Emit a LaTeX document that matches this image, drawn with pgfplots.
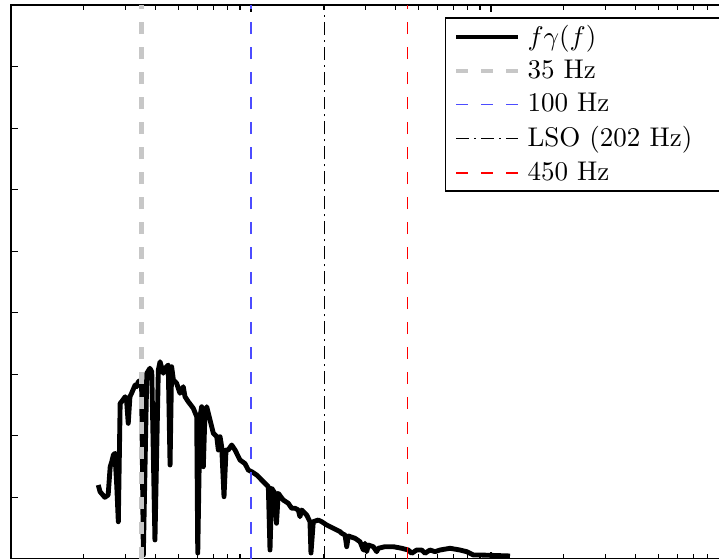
\documentclass[border=0pt]{standalone}
\usepackage{pgfplots}
\pgfplotsset{compat=1.18}
\begin{document}
\begin{tikzpicture}
\begin{axis}[
  scale only axis, width=266.4pt, height=204.98pt,
  xmode=log, xmin=10, xmax=10000, ymin=0, ymax=9,
  xtick={10,100,1000,10000},
  minor xtick={20,30,40,50,60,70,80,90,200,300,400,500,600,700,800,900,2000,3000,4000,5000,6000,7000,8000,9000},
  ytick={0,1,2,3,4,5,6,7,8,9},
  xticklabels={}, yticklabels={},
  tick align=inside, major tick length=2.6pt, minor tick length=1.7pt,
  axis line style={line width=0.5pt},
  every tick/.style={black, line width=0.4pt},
  legend cell align=left,
  legend style={at={(1,1)}, anchor=north east, xshift=-2.6pt, yshift=-4.6pt,
    draw=black, line width=0.5pt, font=\normalsize, inner xsep=2.94pt, inner ysep=0.5pt,
    nodes={inner xsep=1.5pt}},
  legend image code/.code={\draw[#1] (0pt,0pt) -- (22.94pt,0pt); \path (24pt,0pt);},
]
\coordinate (SW) at (rel axis cs:0,0);
\addplot[black, line width=1.8pt, line join=round] coordinates {
(23.1,1.202) (23.5,1.093) (24.6,1.002) (25.4,1.040) (25.9,1.499) (26.3,1.581)
(26.7,1.689) (27.1,1.717) (27.6,1.174) (28.0,0.605) (28.5,2.529) (28.9,2.555)
(29.9,2.636) (30.3,2.583) (30.8,2.204) (31.3,2.636) (31.8,2.692) (32.9,2.827)
(33.4,2.799) (33.9,2.880) (35.0,2.908) (35.6,0.065) (36.8,3.017) (37.9,3.098)
(38.6,3.043) (39.8,0.309) (41.1,3.070) (41.8,3.205) (42.5,3.098) (43.1,3.017)
(43.8,3.098) (45.2,3.151) (46.0,1.527) (46.7,3.124) (47.5,2.908) (49.0,2.854)
(50.6,2.692) (52.2,2.799) (53.1,2.636) (54.8,2.555) (57.5,2.448) (59.4,2.312)
(60.0,0.097) (61.3,2.312) (62.3,2.474) (63.3,1.499) (64.3,2.367) (65.4,2.474)
(67.5,2.258) (69.7,2.042) (72.0,1.987) (73.1,1.771) (74.3,1.987) (75.5,1.824)
(77.2,1.012) (78.7,1.771) (80.4,1.771) (83.1,1.852) (85.8,1.771) (90.0,1.608)
(94.4,1.550) (97.4,1.446) (100.7,1.418) (105.6,1.365) (112.6,1.256) (118.1,1.174)
(120.0,0.146) (122.0,1.148) (125.9,1.067) (127.7,0.580) (129.9,1.067) (136.3,0.958)
(143.0,0.905) (147.8,0.824) (152.6,0.824) (157.4,0.796) (160.0,0.687) (162.7,0.796)
(170.6,0.715) (176.1,0.606) (177.8,0.097) (181.8,0.606) (190.7,0.633) (197.1,0.606)
(206.8,0.552) (220.3,0.499) (234.9,0.445) (238.8,0.417) (246.5,0.390) (250.5,0.200)
(254.4,0.374) (271.3,0.336) (284.6,0.281) (293.8,0.146) (298.5,0.255) (303.4,0.119)
(308.2,0.227) (323.3,0.200) (334.0,0.119) (339.2,0.174) (361.7,0.200) (391.7,0.200)
(424.6,0.174) (452.3,0.146) (467.4,0.093) (490.2,0.146) (514.3,0.146) (530.9,0.093)
(557.0,0.146) (584.5,0.119) (613.1,0.146) (675.0,0.174) (742.8,0.146) (792.0,0.119)
(844.0,0.065) (900.0,0.065) (1200,0.049)
};
\addlegendentry{$f\gamma(f)$}
\addplot[black!22, line width=1.6pt, dash pattern=on 4.44pt off 4.81pt] coordinates {(35,0) (35,9)};
\addlegendentry{35 Hz}
\addplot[blue!70, line width=0.45pt, dash pattern=on 4.44pt off 4.81pt] coordinates {(100,0) (100,9)};
\addlegendentry{100 Hz}
\addplot[black, line width=0.45pt, dash pattern=on 4.8pt off 1.85pt on 0.74pt off 1.85pt] coordinates {(202,0) (202,9)};
\addlegendentry{\makebox[68pt][l]{LSO (202 Hz)}}
\addplot[red, line width=0.45pt, dash pattern=on 4.44pt off 4.81pt] coordinates {(450,0) (450,9)};
\addlegendentry{450 Hz}
\end{axis}
\pgfresetboundingbox
\path (SW) ++(-4.07pt,0.37pt) rectangle ++(266.03pt,206.46pt);
\end{tikzpicture}
\end{document}
